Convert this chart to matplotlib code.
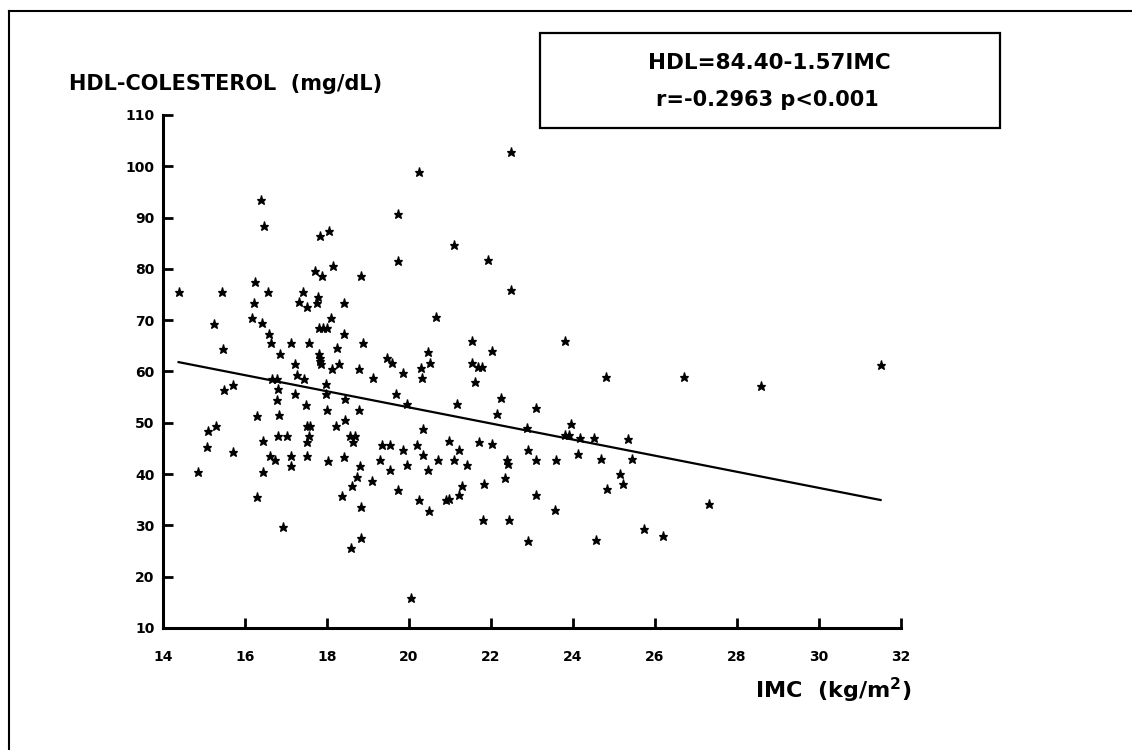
import matplotlib
matplotlib.use("Agg")
import matplotlib.pyplot as plt
import numpy as np
from matplotlib.lines import Line2D
from matplotlib.patches import Rectangle

plt.rcParams["font.family"] = ["DejaVu Sans"]
plt.rcParams["font.weight"] = "bold"

# IMC (kg/m2) and HDL-colesterol (mg/dL)
imc = [22.49, 20.24, 16.39, 16.46, 19.72, 17.82, 18.06, 21.10, 19.72, 21.93,
       18.15, 17.71, 17.87, 18.83, 16.24, 14.38, 15.43, 16.57, 17.42, 17.79,
       17.75, 17.32, 17.51, 16.22, 18.41, 22.49, 20.66, 15.25, 16.18, 16.41,
       18.10, 17.81, 17.91, 18.01, 16.59, 18.41, 21.54, 23.80, 15.46, 16.63,
       17.13, 17.57, 18.87, 18.25, 16.86, 17.81, 17.82, 17.83, 17.85, 18.29,
       18.12, 17.22, 18.79, 19.47, 19.59, 20.46, 22.02, 20.50, 20.29, 21.54,
       21.67, 21.77, 31.50, 17.26, 17.45, 16.66, 16.78, 19.11, 19.86, 20.32,
       24.80, 26.71, 28.58, 17.98, 15.70, 15.48, 16.81, 21.61, 17.22, 17.98,
       16.78, 18.43, 17.49, 19.68, 22.24, 19.94, 21.18, 23.09, 22.14, 18.79,
       17.99, 16.84, 16.29, 18.44, 23.95, 20.33, 22.87, 15.29, 15.10, 17.50,
       17.58, 18.21, 23.80, 23.91, 24.17, 24.50, 25.33, 16.45, 16.81, 17.02,
       17.56, 17.50, 18.57, 18.69, 18.63, 19.33, 19.54, 20.19, 20.98, 21.71,
       22.02, 15.08, 15.70, 19.86, 21.23, 22.89, 24.13, 20.33, 16.60, 16.73,
       17.12, 17.50, 18.42, 18.02, 19.30, 20.71, 21.10, 21.42, 22.38, 22.42,
       23.10, 23.59, 24.68, 25.43, 17.12, 18.81, 19.94, 16.43, 14.85, 19.54,
       20.47, 25.15, 18.72, 19.10, 22.34, 18.61, 21.28, 21.84, 25.22, 19.72,
       24.82, 21.22, 23.10, 16.29, 18.37, 20.25, 20.90, 20.97, 27.32, 20.49,
       23.55, 18.82, 16.92, 21.80, 22.45, 25.73, 26.19, 18.83, 22.89, 24.55,
       18.58, 20.05]
hdl = [102.7, 98.8, 93.4, 88.4, 90.7, 86.4, 87.4, 84.7, 81.5, 81.7,
       80.5, 79.5, 78.6, 78.6, 77.4, 75.4, 75.4, 75.4, 75.4, 74.6,
       73.4, 73.5, 72.5, 73.3, 73.4, 75.8, 70.7, 69.3, 70.4, 69.4,
       70.5, 68.4, 68.4, 68.4, 67.4, 67.4, 65.9, 65.9, 64.4, 65.5,
       65.5, 65.5, 65.5, 64.5, 63.5, 63.5, 62.7, 62.0, 61.4, 61.4,
       60.4, 61.4, 60.4, 62.7, 61.6, 63.7, 63.9, 61.6, 60.6, 61.7,
       60.8, 60.8, 61.3, 59.4, 58.5, 58.6, 58.6, 58.7, 59.8, 58.7,
       59.0, 59.0, 57.2, 57.5, 57.4, 56.4, 56.6, 57.9, 55.6, 55.6,
       54.5, 54.6, 53.5, 55.7, 54.8, 53.7, 53.7, 52.8, 51.8, 52.5,
       52.5, 51.5, 51.3, 50.5, 49.8, 48.7, 48.9, 49.4, 48.3, 49.4,
       49.4, 49.4, 47.6, 47.6, 47.0, 47.0, 46.8, 46.4, 47.4, 47.4,
       47.4, 46.3, 47.4, 47.4, 46.3, 45.6, 45.6, 45.7, 46.5, 46.3,
       45.8, 45.3, 44.4, 44.7, 44.6, 44.7, 44.0, 43.7, 43.6, 42.7,
       43.5, 43.5, 43.4, 42.6, 42.7, 42.7, 42.7, 41.7, 42.8, 41.9,
       42.8, 42.8, 43.0, 43.0, 41.5, 41.5, 41.7, 40.5, 40.4, 40.7,
       40.7, 40.0, 39.5, 38.7, 39.2, 37.7, 37.7, 38.0, 38.1, 36.9,
       37.1, 35.9, 36.0, 35.6, 35.7, 35.0, 35.0, 35.1, 34.2, 32.8,
       33.0, 33.5, 29.6, 31.1, 31.1, 29.2, 28.0, 27.5, 27.0, 27.2,
       25.5, 15.8]

# regression reported in the figure
intercept = 84.40
slope = -1.57
r_value = -0.2963

x_ticks = [14, 16, 18, 20, 22, 24, 26, 28, 30, 32]
y_ticks = [10, 20, 30, 40, 50, 60, 70, 80, 90, 100, 110]

fig = plt.figure(figsize=(11.32, 7.5), dpi=100)
ax = fig.add_axes([0.144, 0.1627, 0.652, 0.684])

ax.plot(imc, hdl, linestyle="none", marker="*", markersize=6.5,
        color="black", markeredgewidth=0.9, clip_on=False)

fit_x = np.array([min(imc), max(imc)])
ax.plot(fit_x, intercept + slope * fit_x, color="black", lw=1.6)

ax.set_xlim(14, 32)
ax.set_ylim(10, 110)
ax.set_xticks(x_ticks)
ax.set_yticks(y_ticks)
for side in ["top", "right"]:
    ax.spines[side].set_visible(False)
for side in ["left", "bottom"]:
    ax.spines[side].set_linewidth(2.2)
ax.tick_params(axis="both", direction="in", length=7, width=2,
               labelsize=10)
ax.tick_params(axis="x", pad=16)
ax.tick_params(axis="y", pad=6)
for lab in ax.get_xticklabels() + ax.get_yticklabels():
    lab.set_fontweight("bold")

fig.text(0.0606, 0.888, "HDL-COLESTEROL  (mg/dL)", fontsize=15,
         fontweight="bold", ha="left", va="center")
fig.text(0.805, 0.079, "IMC  (kg/m$\\mathbf{^2}$)", fontsize=16,
         fontweight="bold", ha="right", va="center")

# equation box
fig.add_artist(Rectangle((0.477, 0.829), 0.406, 0.127, transform=fig.transFigure,
                         fill=False, lw=1.6, edgecolor="black"))
fig.text(0.680, 0.916, "HDL={:.2f}{:.2f}IMC".format(intercept, slope),
         fontsize=15.5, fontweight="bold", ha="center", va="center")
fig.text(0.678, 0.866, "r={:.4f} p<0.001".format(r_value),
         fontsize=15, fontweight="bold", ha="center", va="center")

# page frame from the scan
fig.add_artist(Line2D([0.0077, 0.0077], [0.0, 0.986], transform=fig.transFigure,
                      color="black", lw=1.5))
fig.add_artist(Line2D([0.0077, 1.0], [0.986, 0.986], transform=fig.transFigure,
                      color="black", lw=1.5))

fig.savefig("out.png", dpi=100)
